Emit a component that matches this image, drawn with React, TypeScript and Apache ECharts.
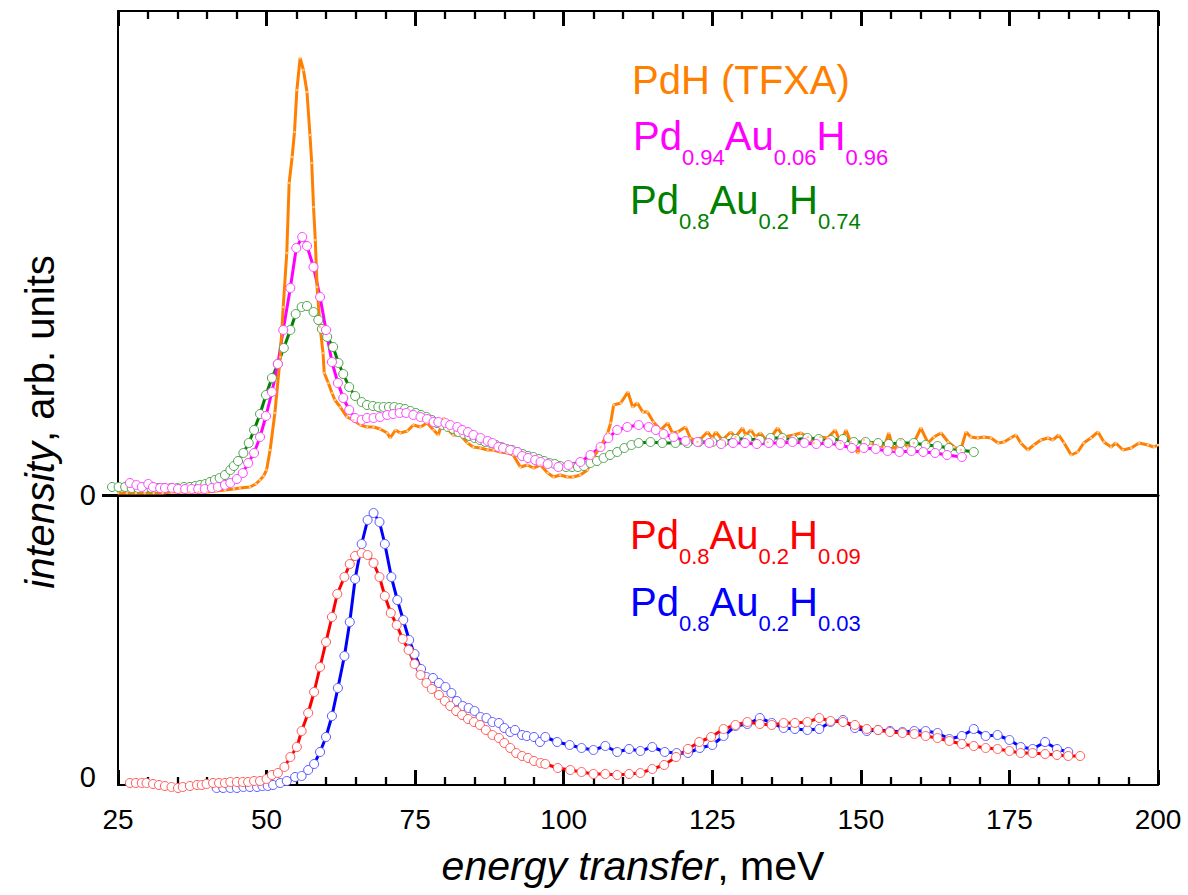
import React, { useEffect, useRef } from "react";
import * as echarts from "echarts";

// energy axis (meV)
const energyMin = 25;
const energyMax = 200;
const energyMajor = 25;
const energyMinorSplit = 5;

// upper panel intensity range (arb. units) and lower panel range
const upperRange = [0, 484];
const lowerRange = [-2, 288];

// PdH (TFXA)  [energy meV, intensity]
const pdhTFXA: [number, number][] = [
  [25, 2], [26.5, 2], [28, 2], [29.5, 2], [31, 2], [32.5, 2], [34, 3], [35.5, 3], [37, 3], [38.5, 3],
  [40, 3], [41.5, 4], [43, 5], [44.5, 6], [45.5, 7], [47.2, 8], [48.2, 11], [48.9, 15], [49.5, 19],
  [50.0, 25], [50.6, 45], [51.4, 82], [52.3, 138], [52.8, 188], [53.4, 242], [53.8, 312], [54.3, 338],
  [54.7, 363], [55.1, 405], [55.65, 437], [56.2, 425], [56.8, 403], [57.3, 360], [57.6, 332], [57.9, 288],
  [58.2, 255], [58.5, 208], [59.0, 168], [59.5, 142], [59.7, 122], [60.4, 112], [61.0, 102], [61.5, 95],
  [62.4, 88], [63.5, 78], [64.6, 75], [65.8, 70], [66.9, 68], [68.0, 68], [69.1, 66], [70.3, 62],
  [70.8, 57], [71.7, 65], [72.5, 62], [73.7, 64], [74.7, 70], [75.9, 68], [77.0, 72], [78.1, 65],
  [78.9, 60], [79.8, 77], [80.6, 65], [81.4, 60], [82.6, 60], [83.8, 52], [84.8, 48], [86.0, 47],
  [87.2, 45], [88.2, 45], [89.3, 43], [90.5, 42], [91.5, 40], [92.7, 28], [93.9, 30], [94.9, 27],
  [96.1, 30], [97.3, 22], [98.3, 18], [99.4, 20], [100.6, 18], [101.6, 18], [102.8, 20], [104.0, 25],
  [105.0, 38], [106.2, 48], [107.4, 62], [107.9, 72], [108.4, 90], [109.6, 92], [110.8, 103], [111.6, 88],
  [112.4, 92], [113.3, 83], [114.1, 83], [115.1, 73], [116.3, 65], [117.5, 72], [118.3, 62], [119.2, 63],
  [120.5, 68], [121.3, 57], [122.5, 53], [124.2, 63], [125.0, 57], [125.6, 63], [126.7, 55], [128.1, 63],
  [128.9, 58], [130.1, 67], [130.6, 60], [131.5, 65], [132.3, 58], [133.1, 62], [134.3, 53], [136.0, 67],
  [137.0, 58], [138.7, 60], [139.9, 62], [141.1, 58], [142.1, 52], [143.2, 58], [144.4, 57], [145.7, 65],
  [146.6, 52], [147.5, 65], [148.3, 53], [149.5, 42], [150.5, 55], [151.7, 52], [152.9, 50], [153.9, 48],
  [154.7, 62], [155.5, 45], [156.7, 55], [157.9, 48], [158.9, 52], [160.1, 67], [161.3, 52], [162.3, 58],
  [163.5, 62], [164.7, 53], [165.7, 48], [166.8, 45], [167.7, 63], [168.5, 58], [169.7, 57], [170.7, 58],
  [171.9, 57], [173.1, 52], [174.1, 53], [175.2, 57], [176.1, 60], [176.9, 52], [178.1, 45], [179.1, 50],
  [180.3, 55], [181.5, 57], [182.3, 55], [183.3, 60], [184.2, 52], [185.4, 40], [186.5, 43], [187.5, 52],
  [188.7, 57], [189.9, 63], [190.9, 53], [192.1, 48], [192.9, 52], [194.1, 45], [195.5, 47], [196.8, 52],
  [198.3, 50], [199.3, 48], [200, 50],
];

// Pd0.94Au0.06H0.96
const pd94H96: [number, number][] = [
  [27.0, 12], [28.1, 10], [29.0, 8], [30.1, 11], [30.9, 8], [32.1, 7], [32.9, 7], [34.1, 7], [35.1, 6],
  [36.3, 6], [37.4, 6], [38.5, 6], [39.6, 6], [40.8, 7], [41.8, 8], [43.0, 10], [43.9, 12], [45.0, 16],
  [46.0, 22], [46.9, 32], [47.9, 42], [48.9, 58], [49.9, 79], [50.9, 103], [51.9, 131], [52.8, 165],
  [54.0, 207], [55.0, 247], [56.0, 258], [56.8, 249], [57.9, 228], [59.0, 198], [60.0, 165], [61.0, 133],
  [62.0, 112], [62.9, 97], [63.9, 85], [64.9, 77], [66.0, 75], [66.9, 77], [68.0, 77], [69.1, 78],
  [70.3, 80], [71.3, 81], [72.4, 82], [73.5, 82], [74.7, 80], [75.9, 78], [77.0, 76], [78.1, 73],
  [78.9, 73], [80.1, 72], [80.9, 70], [82.1, 68], [82.9, 65], [83.9, 63], [84.8, 60], [86.0, 57],
  [87.2, 54], [88.0, 52], [89.0, 48], [89.8, 47], [91.0, 45], [92.2, 43], [93.0, 39], [94.0, 37],
  [95.2, 35], [96.1, 33], [97.3, 31], [99.1, 28], [100.8, 30], [102.8, 33], [104.5, 40], [106.2, 48],
  [107.5, 57], [109.0, 65], [110.7, 68], [112.6, 70], [114.3, 68], [115.5, 65], [116.8, 61], [118.5, 58],
  [120.5, 54], [122.5, 53], [124.5, 52], [126.5, 51], [128.5, 52], [130.5, 52], [132.5, 51], [134.5, 52],
  [136.5, 52], [138.5, 53], [140.5, 52], [142.5, 51], [144.5, 52], [146.5, 50], [148.5, 47], [150.5, 47],
  [152.5, 46], [154.5, 44], [156.5, 43], [158.5, 44], [160.5, 43], [162.5, 42], [164.5, 40], [167.0, 38],
];

// Pd0.8Au0.2H0.74
const pd80H74: [number, number][] = [
  [24.0, 8], [25.1, 8], [26.2, 8], [27.3, 7], [28.4, 7], [29.5, 7], [30.6, 7], [31.7, 7], [32.8, 7],
  [33.9, 7], [35.0, 7], [36.1, 8], [37.1, 8], [38.0, 9], [38.8, 10], [39.7, 11], [40.5, 13], [41.3, 15],
  [42.1, 17], [43.0, 20], [43.9, 25], [44.5, 29], [45.2, 34], [46.1, 42], [47.0, 52], [47.9, 65],
  [48.9, 81], [49.9, 100], [50.9, 117], [51.9, 131], [52.9, 147], [54.0, 165], [54.9, 181], [55.9, 188],
  [56.8, 189], [57.9, 183], [58.7, 175], [59.3, 166], [60.2, 158], [61.2, 148], [62.1, 132], [62.9, 121],
  [63.9, 108], [64.9, 99], [66.0, 93], [66.9, 90], [67.9, 89], [68.8, 88], [69.7, 88], [70.6, 88],
  [71.5, 88], [72.4, 87], [73.3, 86], [74.2, 84], [75.1, 82], [76.0, 80], [76.9, 78], [77.8, 75],
  [78.7, 72], [79.6, 70], [80.5, 68], [81.4, 66], [82.3, 63], [83.2, 61], [84.1, 59], [85.0, 57],
  [85.9, 55], [86.8, 53], [87.7, 52], [88.6, 50], [89.5, 48], [90.4, 46], [91.3, 45], [92.2, 43],
  [93.1, 41], [94.0, 39], [94.9, 38], [95.8, 36], [96.7, 34], [97.6, 32], [98.5, 31], [99.4, 29],
  [100.4, 28], [101.4, 28], [102.4, 28], [103.4, 29], [104.5, 32], [105.6, 34], [106.7, 37], [107.8, 40],
  [109.0, 43], [110.2, 47], [111.4, 50], [112.6, 52], [114.6, 53], [116.6, 52], [118.8, 52], [120.8, 52],
  [122.7, 53], [125.0, 53], [126.9, 53], [128.9, 56], [130.9, 56], [133.0, 55], [134.8, 57], [136.8, 57],
  [138.7, 55], [141.0, 57], [142.9, 56], [145.0, 55], [147.0, 56], [148.8, 53], [150.8, 53], [152.9, 52],
  [154.7, 51], [156.7, 52], [158.9, 52], [160.9, 50], [162.9, 49], [164.8, 47], [166.8, 45], [169.0, 43],
];

// Pd0.8Au0.2H0.09 (lower panel)
const pd80H09: [number, number][] = [
  [27.0, 0], [28.0, 0], [29.0, 0], [29.8, 0], [30.9, -1], [31.9, -2], [32.9, -3], [34.0, -4], [35.1, -5],
  [35.9, -4], [37.1, -3], [38.3, -2], [39.1, -2], [39.9, -1], [41.0, 0], [42.0, 0], [43.0, 0], [43.9, 1],
  [45.0, 1], [46.0, 1], [46.9, 1], [47.9, 2], [48.9, 2], [50.0, 4], [50.9, 8], [51.9, 10], [53.0, 16],
  [54.0, 26], [55.1, 36], [55.9, 52], [57.0, 70], [58.0, 91], [59.0, 116], [60.0, 141], [61.0, 166],
  [61.9, 189], [63.1, 206], [64.0, 219], [64.9, 227], [66.0, 230], [67.0, 228], [68.0, 220], [69.0, 206],
  [69.9, 187], [70.9, 170], [71.9, 158], [72.9, 144], [73.9, 133], [74.9, 119], [75.9, 108], [76.9, 100],
  [77.8, 94], [79.0, 88], [80.0, 82], [80.9, 77], [81.9, 72], [82.9, 68], [83.9, 64], [84.9, 61],
  [85.9, 58], [86.9, 53], [88.0, 48], [89.1, 45], [90.0, 40], [91.0, 35], [92.0, 30], [93.0, 27],
  [94.0, 25], [95.0, 22], [96.1, 20], [96.9, 19], [99.0, 15], [101.1, 13], [103.0, 11], [105.0, 9],
  [107.0, 9], [109.0, 8], [111.0, 9], [112.9, 10], [114.9, 14], [116.9, 18], [118.9, 26], [120.9, 34],
  [122.8, 41], [124.8, 46], [126.9, 54], [128.9, 58], [130.9, 61], [133.0, 59], [135.0, 58], [137.0, 60],
  [138.9, 60], [141.0, 61], [143.0, 65], [144.9, 62], [147.0, 61], [149.0, 58], [151.0, 54], [152.9, 53],
  [154.9, 51], [157.0, 50], [159.0, 49], [160.9, 47], [162.9, 45], [164.9, 42], [167.0, 39], [169.0, 37],
  [171.0, 35], [173.0, 34], [175.0, 32], [176.9, 30], [178.9, 30], [181.0, 29], [183.0, 28], [184.9, 27],
  [186.9, 27],
];

// Pd0.8Au0.2H0.03 (lower panel)
const pd80H03: [number, number][] = [
  [41.6, -5], [42.7, -5], [43.9, -5], [45.0, -5], [46.1, -4], [47.2, -4], [48.4, -4], [49.3, -3],
  [50.2, -3], [51.1, -2], [52.3, 0], [53.4, 2], [54.8, 6], [55.9, 7], [57.0, 13], [58.0, 19], [59.0, 31],
  [60.0, 46], [61.0, 67], [62.0, 95], [63.1, 127], [64.0, 161], [64.9, 204], [66.0, 239], [67.0, 263],
  [68.0, 270], [69.0, 261], [69.9, 239], [71.0, 206], [72.0, 183], [73.0, 163], [74.0, 143], [74.9, 129],
  [76.0, 114], [76.9, 106], [78.0, 105], [79.0, 100], [80.1, 96], [81.1, 90], [82.0, 82], [83.0, 77],
  [84.0, 75], [85.0, 72], [86.0, 66], [87.0, 65], [88.0, 61], [89.1, 60], [90.0, 55], [91.0, 51],
  [91.8, 53], [93.0, 48], [93.8, 47], [95.0, 46], [96.0, 41], [96.9, 46], [98.9, 41], [101.0, 38],
  [103.0, 35], [105.0, 33], [107.0, 37], [109.0, 31], [111.0, 34], [112.9, 32], [114.9, 36], [117.0, 31],
  [119.0, 30], [120.9, 30], [122.9, 35], [125.0, 38], [126.9, 47], [128.9, 57], [130.9, 59], [133.0, 65],
  [135.0, 60], [137.0, 55], [138.9, 54], [141.0, 53], [143.0, 54], [144.9, 61], [147.0, 63], [149.0, 55],
  [151.0, 52], [152.9, 53], [154.9, 52], [157.0, 51], [159.0, 52], [160.9, 52], [162.9, 50], [164.9, 44],
  [167.0, 47], [169.0, 54], [171.0, 47], [173.0, 48], [175.0, 43], [176.9, 36], [178.9, 34], [181.0, 41],
  [183.0, 34], [184.9, 31],
];

const FONT = '"Liberation Sans", Arial, sans-serif';
const BLACK = "#000";

function formula(parts: string[], color: string): any {
  let text = "";
  parts.forEach((p, i) => {
    text += i % 2 === 0 ? `{m|${p}}` : `{s|${p}}`;
  });
  return {
    text,
    rich: {
      m: { fontSize: 40, fontFamily: FONT, fill: color },
      s: { fontSize: 22, fontFamily: FONT, fill: color, padding: [42, 0, 0, 0] },
    },
    align: "left",
    verticalAlign: "top",
  };
}

export default function App() {
  const ref = useRef<HTMLDivElement>(null);
  useEffect(() => {
    if (!ref.current) return;
    const chart = echarts.init(ref.current, undefined, { renderer: "svg" });
    const tickedX = {
      type: "value",
      min: energyMin,
      max: energyMax,
      interval: energyMajor,
      splitLine: { show: false },
      minorSplitLine: { show: false },
      axisLine: { show: true, onZero: false, lineStyle: { color: BLACK, width: 2 } },
      axisTick: { show: true, inside: true, length: 15, lineStyle: { color: BLACK, width: 3 } },
      minorTick: { show: true, splitNumber: energyMinorSplit, length: 8, lineStyle: { color: BLACK, width: 2.3 } },
    };
    const circ = (border: string) => ({ color: "#fff", borderColor: border, borderWidth: 1 });
    const option: any = {
      animation: false,
      backgroundColor: "#fff",
      grid: [
        { left: 118, top: 11, width: 1040, height: 484 },
        { left: 118, top: 495, width: 1040, height: 290 },
      ],
      xAxis: [
        { ...tickedX, gridIndex: 0, position: "top", axisLabel: { show: false } },
        {
          type: "value", gridIndex: 0, position: "bottom", min: energyMin, max: energyMax, interval: energyMajor,
          splitLine: { show: false }, axisTick: { show: false }, minorTick: { show: false }, axisLabel: { show: false },
          axisLine: { show: true, onZero: false, lineStyle: { color: BLACK, width: 3 } },
        },
        {
          ...tickedX, gridIndex: 1, position: "bottom",
          axisLabel: { show: true, fontSize: 28, fontFamily: FONT, color: BLACK, margin: 20 },
        },
      ],
      yAxis: [
        {
          type: "value", gridIndex: 0, position: "left", min: upperRange[0], max: upperRange[1],
          splitLine: { show: false },
          axisLine: { show: true, onZero: false, lineStyle: { color: BLACK, width: 2 } },
          axisTick: { show: true, customValues: [0], length: 16, lineStyle: { color: BLACK, width: 3 } },
          axisLabel: { show: true, customValues: [0], fontSize: 29, fontFamily: FONT, color: BLACK, margin: 22 },
        },
        {
          type: "value", gridIndex: 0, position: "right", min: upperRange[0], max: upperRange[1],
          splitLine: { show: false }, axisTick: { show: false }, axisLabel: { show: false },
          axisLine: { show: true, onZero: false, lineStyle: { color: BLACK, width: 2 } },
        },
        {
          type: "value", gridIndex: 1, position: "left", min: lowerRange[0], max: lowerRange[1],
          splitLine: { show: false },
          axisLine: { show: true, onZero: false, lineStyle: { color: BLACK, width: 2 } },
          axisTick: { show: false },
          axisLabel: { show: true, customValues: [6], formatter: () => "0", fontSize: 29, fontFamily: FONT, color: BLACK, margin: 22 },
        },
        {
          type: "value", gridIndex: 1, position: "right", min: lowerRange[0], max: lowerRange[1],
          splitLine: { show: false }, axisTick: { show: false }, axisLabel: { show: false },
          axisLine: { show: true, onZero: false, lineStyle: { color: BLACK, width: 2 } },
        },
      ],
      series: [
        {
          type: "line", xAxisIndex: 0, yAxisIndex: 0, data: pd80H74, clip: false, silent: true,
          symbol: "circle", symbolSize: 9, lineStyle: { color: "#008000", width: 3 }, itemStyle: circ("#4fa34f"),
        },
        {
          type: "line", xAxisIndex: 0, yAxisIndex: 0, data: pd94H96, clip: false, silent: true,
          symbol: "circle", symbolSize: 9, lineStyle: { color: "#ff00ff", width: 3 }, itemStyle: circ("#ff44ff"),
        },
        {
          type: "line", xAxisIndex: 0, yAxisIndex: 0, data: pdhTFXA, clip: false, silent: true,
          symbol: "circle", symbolSize: 2.5, lineStyle: { color: "#ff8000", width: 3 },
          itemStyle: { color: "#ffc890", borderWidth: 0 },
        },
        {
          type: "line", xAxisIndex: 2, yAxisIndex: 2, data: pd80H03, clip: false, silent: true,
          symbol: "circle", symbolSize: 9, lineStyle: { color: "#0000ff", width: 3 }, itemStyle: circ("#5a5aff"),
        },
        {
          type: "line", xAxisIndex: 2, yAxisIndex: 2, data: pd80H09, clip: false, silent: true,
          symbol: "circle", symbolSize: 9, lineStyle: { color: "#ff0000", width: 3 }, itemStyle: circ("#ff5a5a"),
        },
      ],
      graphic: [
        {
          type: "text", x: 632, y: 80,
          style: { text: "PdH (TFXA)", fontSize: 40, fontFamily: FONT, fill: "#ff8000", align: "left", verticalAlign: "middle" },
        },
        { type: "text", x: 633, y: 104, style: formula(["Pd", "0.94", "Au", "0.06", "H", "0.96"], "#ff00ff") },
        { type: "text", x: 630, y: 168, style: formula(["Pd", "0.8", "Au", "0.2", "H", "0.74"], "#008000") },
        { type: "text", x: 630, y: 503, style: formula(["Pd", "0.8", "Au", "0.2", "H", "0.09"], "#ff0000") },
        { type: "text", x: 630, y: 570, style: formula(["Pd", "0.8", "Au", "0.2", "H", "0.03"], "#0000ff") },
        {
          type: "text", x: 40, y: 422, rotation: Math.PI / 2,
          style: {
            text: "{i|intensity}{n|, arb. units}",
            rich: {
              i: { fontSize: 40, fontStyle: "italic", fontFamily: FONT, fill: BLACK },
              n: { fontSize: 40, fontFamily: FONT, fill: BLACK },
            },
            align: "center", verticalAlign: "middle",
          },
        },
        {
          type: "text", x: 633, y: 866,
          style: {
            text: "{i|energy transfer}{n|, meV}",
            rich: {
              i: { fontSize: 41, fontStyle: "italic", fontFamily: FONT, fill: BLACK },
              n: { fontSize: 41, fontFamily: FONT, fill: BLACK },
            },
            align: "center", verticalAlign: "middle",
          },
        },
      ],
    };
    chart.setOption(option);
    return () => chart.dispose();
  }, []);
  return (
    <div
      ref={ref}
      style={{ position: "fixed", left: 0, top: 0, width: 1188, height: 895, background: "#fff" }}
    />
  );
}
